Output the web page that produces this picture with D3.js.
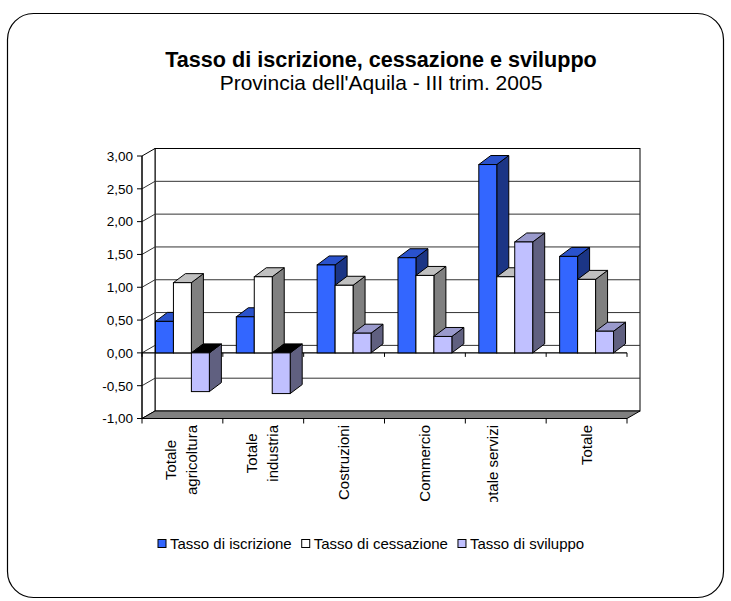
<!DOCTYPE html>
<html><head><meta charset="utf-8">
<script src="https://cdn.jsdelivr.net/npm/d3@7"></script>
<style>body{margin:0;background:#fff}svg{display:block}text{font-family:"Liberation Sans",Arial,sans-serif}</style>
</head><body>
<svg id="c" width="731" height="601"></svg>
<script>
const categories = [["Totale","agricoltura"],["Totale","industria"],["Costruzioni"],["Commercio"],["Totale servizi"],["Totale"]];
const seriesNames = ["Tasso di iscrizione","Tasso di cessazione","Tasso di sviluppo"];
const iscrizione = [0.48, 0.55, 1.34, 1.45, 2.87, 1.47];
const cessazione = [1.07, 1.16, 1.03, 1.18, 1.16, 1.12];
const sviluppo   = [-0.59, -0.62, 0.30, 0.25, 1.69, 0.33];
const yTicks = [-1, -0.5, 0, 0.5, 1, 1.5, 2, 2.5, 3];
const titleText = "Tasso di iscrizione, cessazione e sviluppo";
const subtitleText = "Provincia dell'Aquila - III trim. 2005";

const colors = [
  {front:"#3366FF", top:"#2A52CC", side:"#1B3585"},
  {front:"#FFFFFF", top:"#C0C0C0", side:"#808080"},
  {front:"#C0C0FF", top:"#9A9ACC", side:"#606080"}
];
const values = [iscrizione, cessazione, sviluppo];

const svg = d3.select("#c");
svg.append("rect").attr("x",7.5).attr("y",13.5).attr("width",716).attr("height",584)
  .attr("rx",26).attr("fill","#fff").attr("stroke","#000").attr("stroke-width",1.2);

svg.append("text").attr("x",381).attr("y",67).attr("text-anchor","middle")
  .attr("font-weight","bold").attr("font-size",21.6).text(titleText);
svg.append("text").attr("x",381).attr("y",90).attr("text-anchor","middle")
  .attr("font-size",21).text(subtitleText);

const X0 = 142, X1 = 627;
const WDX = 13, WDY = -7.5;
const BDX = 12, BDY = -9;
const y = d3.scaleLinear().domain([-1,3]).range([418.5,156]);
const x = d3.scaleBand().domain(d3.range(categories.length)).range([X0,X1]);
const xs = d3.scaleBand().domain(d3.range(3)).range([0, x.bandwidth()]).paddingOuter(0.75).paddingInner(0);

const g = svg.append("g");
const line = d3.line();
g.append("rect").attr("x",X0+WDX).attr("y",y(3)+WDY).attr("width",X1-X0).attr("height",y(-1)-y(3))
  .attr("fill","#fff").attr("stroke","#000");
g.append("path").attr("d",line([[X0,y(3)],[X0+WDX,y(3)+WDY],[X0+WDX,y(-1)+WDY],[X0,y(-1)]])+"Z")
  .attr("fill","#fff").attr("stroke","#000");
yTicks.filter(v=>v>-1 && v<3).forEach(v=>{
  g.append("path").attr("d",line([[X0,y(v)],[X0+WDX,y(v)+WDY],[X1+WDX,y(v)+WDY]]))
    .attr("fill","none").attr("stroke","#333").attr("stroke-width",1);
});
g.append("path").attr("d",line([[X0,y(-1)],[X1,y(-1)],[X1+WDX,y(-1)+WDY],[X0+WDX,y(-1)+WDY]])+"Z")
  .attr("fill","#808080").attr("stroke","#000");
g.append("line").attr("x1",X0).attr("x2",X0).attr("y1",y(3)).attr("y2",y(-1)).attr("stroke","#000");
yTicks.forEach(v=>{
  g.append("line").attr("x1",X0-5).attr("x2",X0).attr("y1",y(v)).attr("y2",y(v)).attr("stroke","#000");
  g.append("text").attr("x",133).attr("y",y(v)).attr("dy","0.36em").attr("text-anchor","end")
    .attr("font-size",13.5).text(d3.format(".2f")(v).replace(".",",").replace("−","-"));
});
g.append("line").attr("x1",X0).attr("x2",X1).attr("y1",y(0)).attr("y2",y(0)).attr("stroke","#000").attr("stroke-width",1.3);
d3.range(categories.length+1).forEach(i=>{
  const xx = X0 + i*x.step();
  g.append("line").attr("x1",xx).attr("x2",xx).attr("y1",y(0)).attr("y2",y(0)+4).attr("stroke","#000");
  g.append("line").attr("x1",xx).attr("x2",xx).attr("y1",y(-1)).attr("y2",y(-1)+5).attr("stroke","#000");
});
categories.forEach((c,i)=>{
  values.forEach((vals,j)=>{
    const v = vals[i];
    const bx = x(i) + xs(j), bw = xs.bandwidth();
    const yt = y(Math.max(v,0)), yb = y(Math.min(v,0));
    const col = colors[j];
    g.append("path").attr("d",line([[bx+bw,yt],[bx+bw+BDX,yt+BDY],[bx+bw+BDX,yb+BDY],[bx+bw,yb]])+"Z")
      .attr("fill",col.side).attr("stroke","#000");
    g.append("path").attr("d",line([[bx,yt],[bx+BDX,yt+BDY],[bx+bw+BDX,yt+BDY],[bx+bw,yt]])+"Z")
      .attr("fill", v<0 ? "#000" : col.top).attr("stroke","#000");
    g.append("rect").attr("x",bx).attr("y",yt).attr("width",bw).attr("height",yb-yt)
      .attr("fill",col.front).attr("stroke","#000");
  });
});
const clip = svg.append("clipPath").attr("id","lc");
clip.append("rect").attr("x",0).attr("y",420).attr("width",731).attr("height",82);
const lg = svg.append("g").attr("clip-path","url(#lc)");
const LABEL_MAX = 77;
categories.forEach((lines,i)=>{
  const cx = x(i) + x.bandwidth()/2;
  const widths = lines.map(t=>{
    const el = lg.append("text").attr("font-size",15).text(t);
    const w = el.node().getComputedTextLength(); el.remove(); return w;
  });
  const maxW = d3.max(widths);
  const n = lines.length;
  const shift = (n === 1 && maxW > LABEL_MAX) ? -13 : 0;
  lines.forEach((t,k)=>{
    const off = (k-(n-1)/2)*21 - (n>1?1.5:0) + shift;
    lg.append("text").attr("transform",`translate(${cx+off},${425+maxW/2}) rotate(-90)`)
      .attr("text-anchor","middle").attr("dy","0.36em").attr("font-size",15).text(t);
  });
});
const leg = svg.append("g");
let lx = 158;
seriesNames.forEach((s,j)=>{
  leg.append("rect").attr("x",lx).attr("y",539.5).attr("width",8).attr("height",8)
    .attr("fill",colors[j].front).attr("stroke","#000");
  const t = leg.append("text").attr("x",lx+12).attr("y",549).attr("font-size",15).text(s);
  lx += 12 + t.node().getComputedTextLength() + 10;
});
</script>
</body></html>
